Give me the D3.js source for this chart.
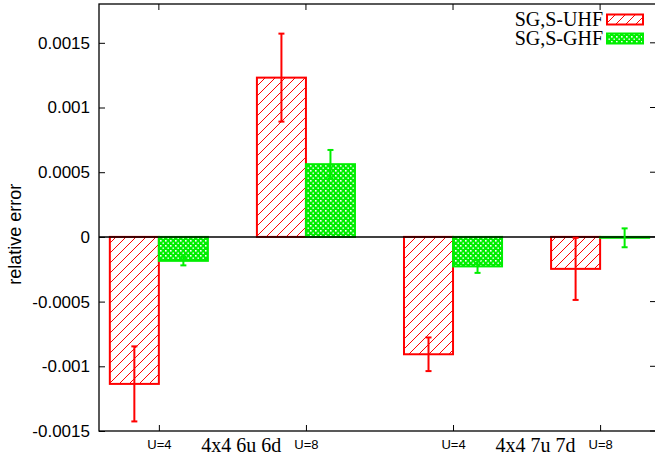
<!DOCTYPE html>
<html>
<head>
<meta charset="utf-8">
<script src="https://cdn.jsdelivr.net/npm/d3@7"></script>
<style>
  body { margin: 0; background: #fff; }
</style>
</head>
<body>
<div id="chart"></div>
<script>
// groups along x: U value tick labels and the system labels
const tickLabels = ["U=4", "U=8", "U=4", "U=8"];
const groupLabels = ["4x4 6u 6d", "4x4 7u 7d"];
const groupLabelPos = [1.56, 3.56];
const seriesNames = ["SG,S-UHF", "SG,S-GHF"];

// relative error values and their error bars
const uhfValues = [-0.001136, 0.001231, -0.000907, -0.000247];
const uhfErrors = [0.00029, 0.00034, 0.00013, 0.00024];
const ghfValues = [-0.000185, 0.000562, -0.000228, -0.000007];
const ghfErrors = [0.000035, 0.00011, 0.00005, 0.000073];

const yTicks = [0.0015, 0.001, 0.0005, 0, -0.0005, -0.001, -0.0015];

const width = 655;
const height = 457;
const margin = { top: 4, right: -1, bottom: 26, left: 99 };
const innerWidth = width - margin.left - margin.right;
const innerHeight = height - margin.top - margin.bottom;

const red = "#ff0000";
const green = "#00ee00";
const barWidth = 1 / 3;

const x = d3.scaleLinear()
    .domain([0.593, 4.38])
    .range([0, innerWidth]);

const y = d3.scaleLinear()
    .domain([-0.0015, 0.0018])
    .range([innerHeight, 0]);

const svg = d3.select("#chart")
    .append("svg")
    .attr("width", width)
    .attr("height", height)
    .style("display", "block");

// hatch patterns
const defs = svg.append("defs");
const hatch = defs.append("pattern")
    .attr("id", "hatch")
    .attr("patternUnits", "userSpaceOnUse")
    .attr("width", 10)
    .attr("height", 10);
hatch.append("rect").attr("width", 10).attr("height", 10).attr("fill", "#fff");
hatch.append("path")
    .attr("d", "M-1,11 L11,-1 M-6,6 L6,-6 M4,16 L16,4")
    .attr("stroke", red)
    .attr("stroke-width", 1);

const dots = defs.append("pattern")
    .attr("id", "dots")
    .attr("patternUnits", "userSpaceOnUse")
    .attr("width", 5)
    .attr("height", 5);
dots.append("rect").attr("width", 5).attr("height", 5).attr("fill", green);
dots.append("rect").attr("x", 1).attr("y", 1).attr("width", 1.6).attr("height", 1.6).attr("fill", "#fff");
dots.append("rect").attr("x", 3.5).attr("y", 3.5).attr("width", 1.4).attr("height", 1.4).attr("fill", "#fff");

const g = svg.append("g")
    .attr("transform", `translate(${margin.left},${margin.top})`);

// Left axis
const yAxis = d3.axisLeft(y)
    .tickValues(yTicks)
    .tickFormat(d => d.toString())
    .tickSizeInner(-6)
    .tickSizeOuter(0)
    .tickPadding(9);

g.append("g")
    .call(yAxis)
    .call(s => s.select(".domain").remove())
    .call(s => s.selectAll("text")
        .style("font-family", "'Liberation Sans', Arial, sans-serif")
        .style("font-size", "17px")
        .attr("fill", "#000"));

// Bottom axis
const xAxis = d3.axisBottom(x)
    .tickValues([1, 2, 3, 4])
    .tickFormat((d, i) => tickLabels[i])
    .tickSizeInner(-6)
    .tickSizeOuter(0)
    .tickPadding(9);

g.append("g")
    .attr("transform", `translate(0,${innerHeight})`)
    .call(xAxis)
    .call(s => s.select(".domain").remove())
    .call(s => s.selectAll("text")
        .style("font-family", "'Liberation Sans', Arial, sans-serif")
        .style("font-size", "13px")
        .attr("fill", "#000"));

// mirror ticks on the top and right
g.selectAll(".top-tick")
    .data([1, 2, 3, 4])
    .enter().append("line")
    .attr("x1", d => x(d)).attr("x2", d => x(d))
    .attr("y1", 0).attr("y2", 6)
    .attr("stroke", "#000");

g.selectAll(".right-tick")
    .data(yTicks)
    .enter().append("line")
    .attr("x1", innerWidth - 6).attr("x2", innerWidth)
    .attr("y1", d => y(d)).attr("y2", d => y(d))
    .attr("stroke", "#000");

// group labels
g.selectAll(".group-label")
    .data(groupLabels)
    .enter().append("text")
    .attr("x", (d, i) => x(groupLabelPos[i]))
    .attr("y", innerHeight + 21)
    .attr("text-anchor", "middle")
    .style("font-family", "'Liberation Serif', 'Times New Roman', serif")
    .style("font-size", "20px")
    .text(d => d);

// y label
svg.append("text")
    .attr("transform", `translate(21,${margin.top + y(0.00002)}) rotate(-90)`)
    .attr("text-anchor", "middle")
    .style("font-family", "'Liberation Sans', Arial, sans-serif")
    .style("font-size", "18px")
    .text("relative error");

// bars
const series = [
    { values: uhfValues, errors: uhfErrors, color: red, fill: "url(#hatch)", offset: -barWidth },
    { values: ghfValues, errors: ghfErrors, color: green, fill: "url(#dots)", offset: 0 }
];

series.forEach(s => {
    const bars = g.append("g");
    bars.selectAll("rect")
        .data(s.values)
        .enter().append("rect")
        .attr("x", (d, i) => x(i + 1 + s.offset))
        .attr("width", x(barWidth) - x(0))
        .attr("y", d => y(Math.max(0, d)))
        .attr("height", d => Math.abs(y(d) - y(0)))
        .attr("fill", s.fill)
        .attr("stroke", s.color)
        .attr("stroke-width", 2);
});

// zero line
g.append("line")
    .attr("x1", 0).attr("x2", innerWidth)
    .attr("y1", y(0)).attr("y2", y(0))
    .attr("stroke", "#000")
    .attr("stroke-width", 1.5);

// error bars
series.forEach(s => {
    const cx = i => x(i + 1 + s.offset + barWidth / 2);
    const eb = g.append("g")
        .attr("stroke", s.color)
        .attr("stroke-width", 2);
    s.values.forEach((v, i) => {
        const top = y(v + s.errors[i]);
        const bot = y(v - s.errors[i]);
        eb.append("line").attr("x1", cx(i)).attr("x2", cx(i)).attr("y1", top).attr("y2", bot);
        eb.append("line").attr("x1", cx(i) - 3).attr("x2", cx(i) + 3).attr("y1", top).attr("y2", top);
        eb.append("line").attr("x1", cx(i) - 3).attr("x2", cx(i) + 3).attr("y1", bot).attr("y2", bot);
    });
});

// frame
g.append("rect")
    .attr("width", innerWidth)
    .attr("height", innerHeight)
    .attr("fill", "none")
    .attr("stroke", "#000")
    .attr("stroke-width", 1.3);

// legend
const legend = svg.append("g");
const legendColors = [red, green];
const legendFills = ["url(#hatch)", "url(#dots)"];
seriesNames.forEach((name, i) => {
    legend.append("text")
        .attr("x", 603)
        .attr("y", 26 + i * 19)
        .attr("text-anchor", "end")
        .style("font-family", "'Liberation Serif', 'Times New Roman', serif")
        .style("font-size", "20px")
        .text(name);
    legend.append("rect")
        .attr("x", 607)
        .attr("y", 14.5 + i * 19)
        .attr("width", 36)
        .attr("height", 10)
        .attr("fill", legendFills[i])
        .attr("stroke", legendColors[i])
        .attr("stroke-width", 2);
});
</script>
</body>
</html>
